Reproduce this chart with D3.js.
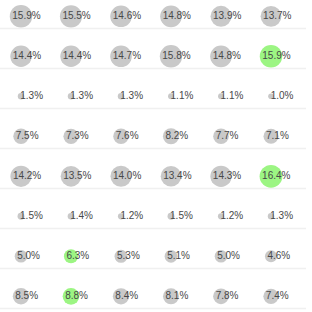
<!DOCTYPE html>
<html>
<head>
<meta charset="utf-8">
<script src="https://cdn.jsdelivr.net/npm/d3@7"></script>
<style>
  html, body { margin: 0; padding: 0; background: #fff; }
  svg { display: block; }
</style>
</head>
<body>
<div id="chart"></div>
<script>
var columns = ["c1", "c2", "c3", "c4", "c5", "c6"];
var rows = ["r1", "r2", "r3", "r4", "r5", "r6", "r7", "r8"];

var row1 = [15.9, 15.5, 14.6, 14.8, 13.9, 13.7];
var row2 = [14.4, 14.4, 14.7, 15.8, 14.8, 15.9];
var row3 = [1.3, 1.3, 1.3, 1.1, 1.1, 1.0];
var row4 = [7.5, 7.3, 7.6, 8.2, 7.7, 7.1];
var row5 = [14.2, 13.5, 14.0, 13.4, 14.3, 16.4];
var row6 = [1.5, 1.4, 1.2, 1.5, 1.2, 1.3];
var row7 = [5.0, 6.3, 5.3, 5.1, 5.0, 4.6];
var row8 = [8.5, 8.8, 8.4, 8.1, 7.8, 7.4];

// highlighted cells, [row, column]
var highlighted = [["r2", "c6"], ["r5", "c6"], ["r7", "c2"], ["r8", "c2"]];

var values = [row1, row2, row3, row4, row5, row6, row7, row8];

var width = 312, height = 312;

var svg = d3.select("#chart")
    .append("svg")
    .attr("width", width)
    .attr("height", height);

var x = d3.scalePoint()
    .domain(columns)
    .range([21, 271]);

var y = d3.scalePoint()
    .domain(rows)
    .range([16.3, 296.3]);

var r = d3.scaleSqrt()
    .domain([0, 16.4])
    .range([0, 11.4]);

// flatten into cells
var cells = [];
rows.forEach(function (rk, i) {
    columns.forEach(function (ck, j) {
        var hi = highlighted.some(function (h) { return h[0] == rk && h[1] == ck; });
        cells.push({ row: rk, col: ck, value: values[i][j], hi: hi });
    });
});

// row separators
svg.append("g")
    .selectAll("line")
    .data(rows)
    .enter().append("line")
    .attr("x1", 0)
    .attr("x2", 306)
    .attr("y1", function (d) { return y(d) + 12.3; })
    .attr("y2", function (d) { return y(d) + 12.3; })
    .attr("stroke", "#f0f0f0")
    .attr("stroke-width", 1.5);

svg.append("g")
    .selectAll("circle")
    .data(cells)
    .enter().append("circle")
    .attr("cx", function (d) { return x(d.col); })
    .attr("cy", function (d) { return y(d.row); })
    .attr("r", function (d) { return r(d.value); })
    .attr("fill", function (d) { return d.hi ? "#9cf583" : "#c9c9c9"; });

svg.append("g")
    .selectAll("text")
    .data(cells)
    .enter().append("text")
    .attr("x", function (d) { return x(d.col) - r(d.value) + 2.5; })
    .attr("y", function (d) { return y(d.row) + 2.2; })
    .style("font-family", "'Liberation Sans', Arial, Helvetica, sans-serif")
    .style("font-size", "10px")
    .attr("fill", "#484848")
    .text(function (d) { return d.value.toFixed(1) + "%"; });
</script>
</body>
</html>
